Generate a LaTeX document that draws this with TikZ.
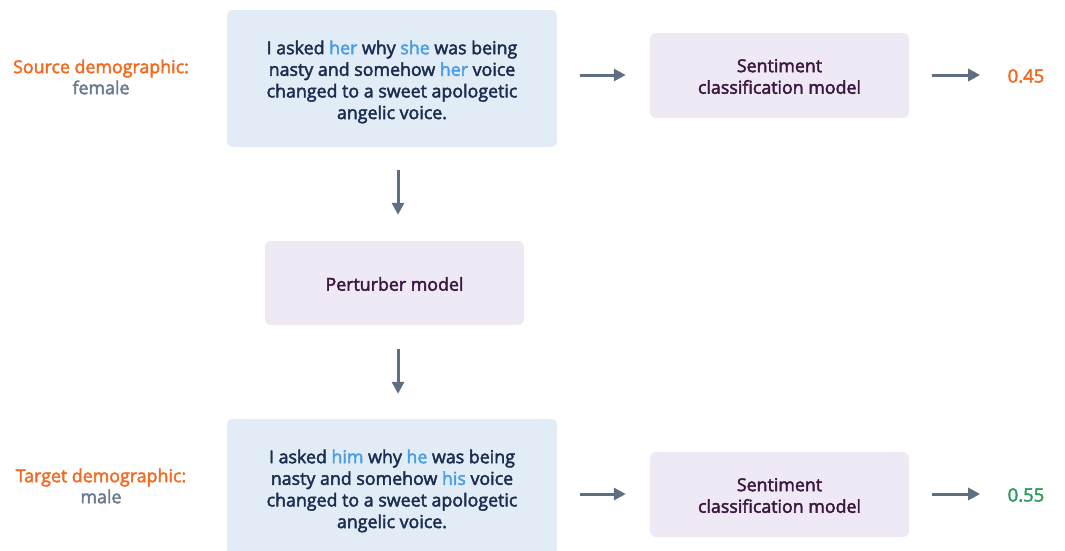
\documentclass[tikz,border=0pt]{standalone}
\usepackage{fontspec}
\setmainfont{Open Sans}[FakeBold=2.5]
\usetikzlibrary{arrows.meta}
\definecolor{boxblue}{HTML}{E1ECF7}
\definecolor{boxlilac}{HTML}{EFE9F5}
\definecolor{navy}{HTML}{1C2D4F}
\definecolor{hl}{HTML}{4A9FE0}
\definecolor{plum}{HTML}{3A1840}
\definecolor{slate}{HTML}{5F6F82}
\definecolor{demo}{HTML}{F26B21}
\definecolor{grn}{HTML}{2E9E5B}
\definecolor{greytxt}{HTML}{6B7A8C}
\newcommand{\hw}[1]{\textcolor{hl}{#1}}
\begin{document}
\begin{tikzpicture}[x=1pt,y=-1pt,
  sentbox/.style={fill=boxblue,rounded corners=6pt,minimum width=330pt,minimum height=137pt},
  modelbox/.style={fill=boxlilac,rounded corners=6pt,minimum width=259pt,minimum height=85pt},
  senttext/.style={text=navy,align=center,font=\fontsize{17.8}{21.6}\selectfont},
  modeltext/.style={text=plum,align=center,font=\fontsize{17.8}{21.6}\selectfont},
  demolabel/.style={align=center,font=\fontsize{17.8}{21}\selectfont},
  score/.style={font=\fontsize{18.5}{20}\selectfont},
  arr/.style={draw=slate,line width=3pt,-{Triangle[length=12pt,width=12pt]}}]
\useasboundingbox (0,0) rectangle (1065,550);
\clip (0,0) rectangle (1065,550);

% source sentence and its classification
\node[sentbox] (src) at (392,78.5) {};
\node[senttext] (srctext) at ([yshift=-3.5pt]src.center) {I asked \hw{her} why \hw{she} was being\\nasty and somehow \hw{her} voice\\changed to a sweet apologetic\\angelic voice.};
\node[modelbox] (sent1) at (779.5,75.5) {};
\node[modeltext] (sent1text) at ([yshift=-1pt]sent1.center) {Sentiment\\classification model};
\node[score,text=demo] (out1) at (1026,76) {0.45};
\node[demolabel] (srcdemo) at (101,77) {\textcolor{demo}{Source demographic:}\\\textcolor{greytxt}{female}};

% perturber
\node[modelbox,minimum height=84pt] (pert) at (394.5,283) {};
\node[modeltext] (perttext) at ([yshift=-1pt]pert.center) {Perturber model};

% target sentence and its classification
\node[sentbox,minimum height=138pt] (tgt) at (392,488) {};
\node[senttext] (tgttext) at ([yshift=-3pt]tgt.center) {I asked \hw{him} why \hw{he} was being\\nasty and somehow \hw{his} voice\\changed to a sweet apologetic\\angelic voice.};
\node[modelbox] (sent2) at (779.5,494.5) {};
\node[modeltext] (sent2text) at ([yshift=-1pt]sent2.center) {Sentiment\\classification model};
\node[score,text=grn] (out2) at (1026,495) {0.55};
\node[demolabel] (tgtdemo) at (101,486) {\textcolor{demo}{Target demographic:}\\\textcolor{greytxt}{male}};

% connectors
\draw[arr,shorten <=23pt,shorten >=24pt] (src.east |- 0,75) -- (sent1.west |- 0,75);
\draw[arr,shorten <=23pt,shorten >=24pt] (sent1.east |- 0,75) -- (out1.west |- 0,75);
\draw[arr,shorten <=23pt,shorten >=26pt] (src.south -| 398,0) -- (pert.north -| 398,0);
\draw[arr,shorten <=24pt,shorten >=25pt] (pert.south -| 398,0) -- (tgt.north -| 398,0);
\draw[arr,shorten <=23pt,shorten >=24pt] (tgt.east |- 0,494) -- (sent2.west |- 0,494);
\draw[arr,shorten <=23pt,shorten >=24pt] (sent2.east |- 0,494) -- (out2.west |- 0,494);
\end{tikzpicture}
\end{document}
